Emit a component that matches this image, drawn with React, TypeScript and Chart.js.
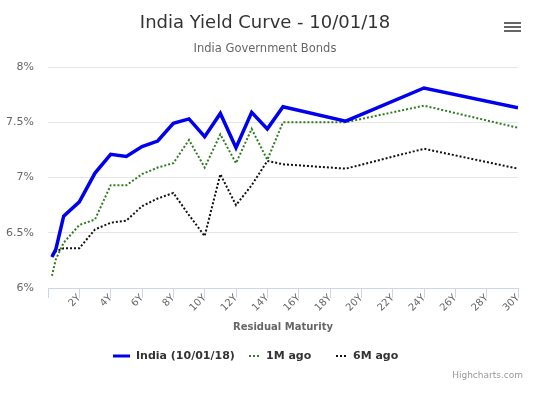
import React, { useEffect, useRef } from "react";
import { Chart, registerables } from "chart.js";
Chart.register(...registerables);

const titleText = "India Yield Curve - 10/01/18";
const subtitleText = "India Government Bonds";
const xAxisTitle = "Residual Maturity";
const creditText = "Highcharts.com";

const maturities = [0.25, 0.5, 1, 2, 3, 4, 5, 6, 7, 8, 9, 10, 11, 12, 13, 14, 15, 19, 24, 30];
const india = [6.28, 6.35, 6.65, 6.78, 7.04, 7.21, 7.19, 7.28, 7.33, 7.49, 7.53, 7.37, 7.58, 7.27, 7.59, 7.44, 7.64, 7.51, 7.81, 7.63];
const oneMonthAgo = [6.11, 6.26, 6.41, 6.57, 6.62, 6.93, 6.93, 7.03, 7.09, 7.13, 7.34, 7.09, 7.39, 7.13, 7.44, 7.16, 7.5, 7.5, 7.65, 7.45];
const sixMonthsAgo = [6.3, 6.33, 6.36, 6.36, 6.53, 6.59, 6.61, 6.74, 6.81, 6.86, 6.66, 6.47, 7.03, 6.75, 6.93, 7.15, 7.12, 7.08, 7.26, 7.08];

const seriesNames = ["India (10/01/18)", "1M ago", "6M ago"];
const seriesColors = ["#0000ee", "#2e7d1e", "#111111"];

const FONT = '"DejaVu Sans", Verdana, sans-serif';

const decorPlugin = {
  id: "decor",
  afterDraw(chart: any) {
    const ctx = chart.ctx as CanvasRenderingContext2D;
    const area = chart.chartArea;
    ctx.save();
    ctx.textAlign = "center";
    ctx.textBaseline = "middle";
    // title
    ctx.fillStyle = "#333333";
    ctx.font = `18px ${FONT}`;
    ctx.fillText(titleText, 265, 23);
    // subtitle
    ctx.fillStyle = "#666666";
    ctx.font = `11.5px ${FONT}`;
    ctx.fillText(subtitleText, 265, 49);
    // x axis title
    ctx.fillStyle = "#666666";
    ctx.font = `bold 10px ${FONT}`;
    ctx.fillText(xAxisTitle, (area.left + area.right) / 2, 327);
    // menu icon
    ctx.strokeStyle = "#666666";
    ctx.lineWidth = 2;
    [23, 27, 31].forEach((y) => {
      ctx.beginPath();
      ctx.moveTo(504, y);
      ctx.lineTo(521, y);
      ctx.stroke();
    });
    // legend
    const legendY = 356;
    const symStarts = [113, 249, 336];
    const textStarts = [136, 266, 353];
    ctx.font = `bold 11px ${FONT}`;
    ctx.textAlign = "left";
    seriesNames.forEach((name, i) => {
      ctx.beginPath();
      ctx.strokeStyle = seriesColors[i];
      if (i === 0) {
        ctx.lineWidth = 3;
        ctx.setLineDash([]);
        ctx.moveTo(symStarts[i], legendY);
        ctx.lineTo(symStarts[i] + 17, legendY);
      } else {
        ctx.lineWidth = 2;
        ctx.setLineDash([2, 2]);
        ctx.moveTo(symStarts[i], legendY);
        ctx.lineTo(symStarts[i] + 12, legendY);
      }
      ctx.stroke();
      ctx.setLineDash([]);
      ctx.fillStyle = "#333333";
      ctx.fillText(name, textStarts[i], legendY);
    });
    // credits
    ctx.textAlign = "right";
    ctx.fillStyle = "#999999";
    ctx.font = `9px ${FONT}`;
    ctx.fillText(creditText, 523, 376);
    ctx.restore();
  },
};

export default function App() {
  const ref = useRef<HTMLCanvasElement | null>(null);
  useEffect(() => {
    if (!ref.current) return;
    const mk = (vals: number[]) => maturities.map((x, i) => ({ x, y: vals[i] }));
    const chart = new Chart(ref.current, {
      type: "line",
      data: {
        datasets: [
          {
            label: seriesNames[0],
            data: mk(india),
            borderColor: seriesColors[0],
            backgroundColor: seriesColors[0],
            borderWidth: 3.5,
            pointRadius: 0,
            tension: 0,
          },
          {
            label: seriesNames[1],
            data: mk(oneMonthAgo),
            borderColor: seriesColors[1],
            backgroundColor: seriesColors[1],
            borderWidth: 2,
            borderDash: [2, 2],
            pointRadius: 0,
            tension: 0,
          },
          {
            label: seriesNames[2],
            data: mk(sixMonthsAgo),
            borderColor: seriesColors[2],
            backgroundColor: seriesColors[2],
            borderWidth: 2,
            borderDash: [2, 2],
            pointRadius: 0,
            tension: 0,
          },
        ],
      },
      options: {
        animation: false,
        responsive: false,
        layout: { padding: { top: 67, right: 19, left: 0, bottom: 0 } },
        plugins: {
          legend: { display: false },
          title: { display: false },
          tooltip: { enabled: false },
        },
        scales: {
          x: {
            type: "linear",
            min: 0,
            max: 30,
            afterFit: (s: any) => {
              s.height = 106;
            },
            border: { display: true, color: "#ccd6eb", width: 1 },
            grid: {
              display: true,
              drawOnChartArea: false,
              drawTicks: true,
              tickLength: 10,
              color: "#ccd6eb",
            },
            ticks: {
              stepSize: 2,
              autoSkip: false,
              minRotation: 45,
              maxRotation: 45,
              padding: -6,
              color: "#666666",
              font: { family: FONT, size: 10 },
              callback: (v: any) => (v === 0 ? "" : `${v}Y`),
            },
          },
          y: {
            min: 6,
            max: 8,
            afterFit: (s: any) => {
              s.width = 48;
            },
            border: { display: false },
            grid: { color: "#e6e6e6", drawTicks: false, lineWidth: 1 },
            ticks: {
              stepSize: 0.5,
              padding: 14,
              color: "#666666",
              font: { family: FONT, size: 11 },
              callback: (v: any) => `${v}%`,
            },
          },
        },
      },
      plugins: [decorPlugin],
    } as any);
    return () => chart.destroy();
  }, []);
  return (
    <div style={{ position: "fixed", left: 0, top: 0, width: 537, height: 394, background: "#fff" }}>
      <canvas ref={ref} width={537} height={394} style={{ width: 537, height: 394 }} />
    </div>
  );
}
